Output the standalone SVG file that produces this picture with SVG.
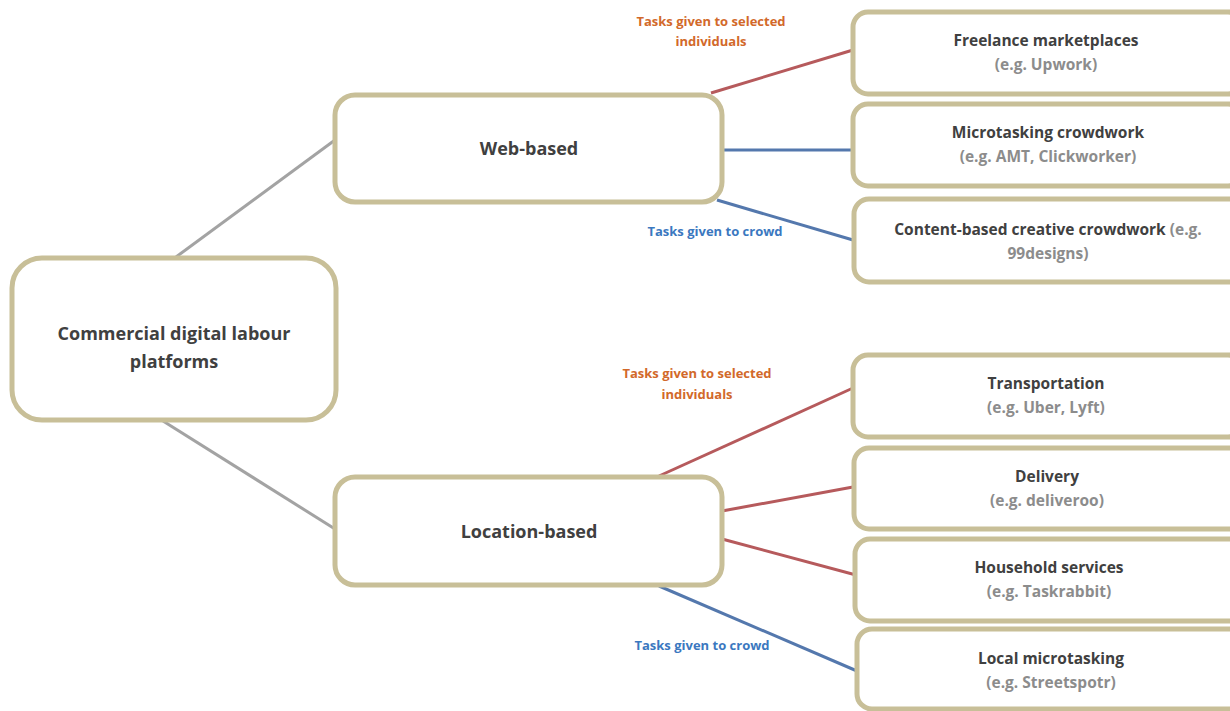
<svg xmlns="http://www.w3.org/2000/svg" width="1230" height="711" viewBox="0 0 1230 711">
<style>
.box{fill:#fff;stroke:#c8bf98;stroke-width:5}
.t{font-family:"Open Sans",Lato,sans-serif;font-weight:bold;fill:#404040;text-anchor:middle}
.big{font-size:18px}
.sm{font-size:15.5px}
.g{fill:#8c8c8c}
.lab{font-family:"Open Sans",Lato,sans-serif;font-weight:bold;font-size:13px;text-anchor:middle}
.or{fill:#d2692a}
.bl{fill:#3b78bf}
.gray{stroke:#a3a3a3;stroke-width:3}
.red{stroke:#b65a5c;stroke-width:3}
.blue{stroke:#5478ad;stroke-width:3}
</style>
<rect width="1230" height="711" fill="#fff"/>
<g id="connectors" fill="none">
<line class="gray" x1="176" y1="257" x2="335" y2="140"/>
<line class="gray" x1="163" y1="421" x2="335" y2="529"/>
<line class="red" x1="711" y1="93" x2="853" y2="50"/>
<line class="blue" x1="722" y1="150" x2="853" y2="150"/>
<line class="blue" x1="717" y1="200" x2="853" y2="240"/>
<line class="red" x1="659" y1="476" x2="853" y2="388"/>
<line class="red" x1="722" y1="511" x2="853" y2="487"/>
<line class="red" x1="722" y1="539" x2="856" y2="575"/>
<line class="blue" x1="659" y1="586" x2="857" y2="671"/>
</g>
<g id="labels">
<text class="lab or" x="711" y="26">Tasks given to selected</text>
<text class="lab or" x="711" y="46">individuals</text>
<text class="lab bl" x="715" y="236">Tasks given to crowd</text>
<text class="lab or" x="697" y="378">Tasks given to selected</text>
<text class="lab or" x="697" y="399">individuals</text>
<text class="lab bl" x="702" y="650">Tasks given to crowd</text>
</g>
<g id="root">
<rect class="box" x="12" y="258" width="324" height="162" rx="30"/>
<text class="t big" x="174" y="340">Commercial digital labour</text>
<text class="t big" x="174" y="368">platforms</text>
</g>
<g id="web">
<rect class="box" x="335" y="95" width="387" height="107" rx="20"/>
<text class="t big" x="529" y="155">Web-based</text>
</g>
<g id="location">
<rect class="box" x="335" y="477" width="387" height="108" rx="20"/>
<text class="t big" x="529" y="538">Location-based</text>
</g>
<g id="freelance">
<rect class="box" x="853" y="12" width="390" height="82" rx="15"/>
<text class="t sm" x="1046" y="46">Freelance marketplaces</text>
<text class="t sm g" x="1046" y="70">(e.g. Upwork)</text>
</g>
<g id="microtasking">
<rect class="box" x="853" y="104" width="390" height="82" rx="15"/>
<text class="t sm" x="1048" y="138">Microtasking crowdwork</text>
<text class="t sm g" x="1048" y="162">(e.g. AMT, Clickworker)</text>
</g>
<g id="content">
<rect class="box" x="854" y="199" width="390" height="83" rx="15"/>
<text class="t sm" x="1048" y="235">Content-based creative crowdwork <tspan class="g">(e.g.</tspan></text>
<text class="t sm g" x="1048" y="259">99designs)</text>
</g>
<g id="transportation">
<rect class="box" x="853" y="355" width="390" height="82" rx="15"/>
<text class="t sm" x="1046" y="389">Transportation</text>
<text class="t sm g" x="1046" y="413">(e.g. Uber, Lyft)</text>
</g>
<g id="delivery">
<rect class="box" x="854" y="448" width="390" height="81" rx="15"/>
<text class="t sm" x="1047" y="482">Delivery</text>
<text class="t sm g" x="1047" y="506">(e.g. deliveroo)</text>
</g>
<g id="household">
<rect class="box" x="855" y="539" width="390" height="82" rx="15"/>
<text class="t sm" x="1049" y="573">Household services</text>
<text class="t sm g" x="1049" y="597">(e.g. Taskrabbit)</text>
</g>
<g id="local">
<rect class="box" x="857" y="629" width="390" height="80" rx="15"/>
<text class="t sm" x="1051" y="664">Local microtasking</text>
<text class="t sm g" x="1051" y="688">(e.g. Streetspotr)</text>
</g>
</svg>
